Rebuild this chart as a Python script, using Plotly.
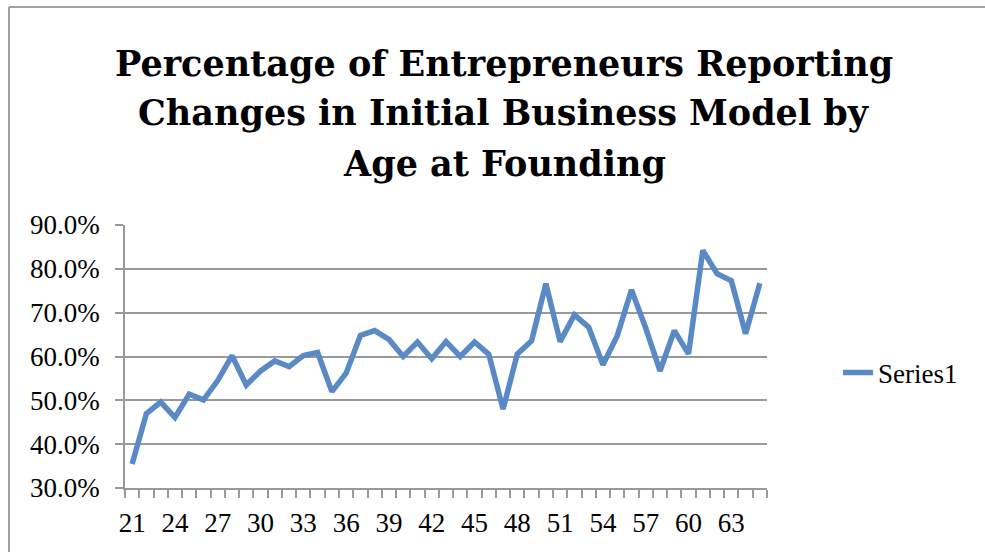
import plotly.graph_objects as go

ages = list(range(21, 66))
pct_changed = [35.5, 47.0, 49.6, 46.1, 51.4, 50.1, 54.5, 60.2, 53.5, 56.7,
               59.0, 57.7, 60.2, 60.9, 52.0, 56.2, 64.8, 65.9, 63.9, 60.0,
               63.3, 59.5, 63.4, 60.0, 63.3, 60.5, 48.0, 60.6, 63.6, 76.6,
               63.4, 69.5, 66.7, 58.1, 64.7, 75.2, 66.5, 56.7, 65.9, 60.6,
               84.2, 78.9, 77.3, 65.2, 76.7]
values = [v / 100 for v in pct_changed]
x_tick_labels = [21, 24, 27, 30, 33, 36, 39, 42, 45, 48, 51, 54, 57, 60, 63]
y_tick_values = [0.3, 0.4, 0.5, 0.6, 0.7, 0.8, 0.9]
series_name = "Series1"
title_lines = ["Percentage of Entrepreneurs Reporting",
               "Changes in Initial Business Model by",
               "Age at Founding"]

W, H = 985, 552
L, R, T, B = 125, 218, 225, 64
pw, ph = W - L - R, H - T - B
GRAY = "#999999"
TICKFONT = dict(family="Liberation Serif", size=27, color="#000000")

def px_x(p):
    return (p - L) / pw

def px_y(p):
    return (H - B - p) / ph

fig = go.Figure()
fig.add_trace(go.Scatter(x=ages, y=values, mode="lines", name=series_name,
                         line=dict(color="#5A8AC6", width=5.5)))

fig.update_layout(
    width=W, height=H,
    margin=dict(l=L, r=R, t=T, b=B),
    paper_bgcolor="white", plot_bgcolor="white",
    showlegend=True,
    legend=dict(x=px_x(838), y=px_y(373), xanchor="left", yanchor="middle",
                font=dict(family="Liberation Serif", size=27, color="#000000"),
                bgcolor="rgba(0,0,0,0)", borderwidth=0),
    xaxis=dict(range=[20.5, 65.5], tickmode="array", tickvals=x_tick_labels,
               ticktext=[str(v) for v in x_tick_labels], ticks="",
               showgrid=False, zeroline=False, showline=True, linecolor=GRAY,
               linewidth=1.5, tickfont=TICKFONT, ticklabelstandoff=10,
               minor=dict(tick0=20.5, dtick=1, ticks="outside", ticklen=8,
                          tickcolor=GRAY, tickwidth=1.5, showgrid=False)),
    yaxis=dict(range=[0.3, 0.9], tickmode="array", tickvals=y_tick_values,
               tickformat=".1%", ticks="outside", ticklen=8, tickcolor=GRAY,
               tickwidth=1.5, showgrid=True, gridcolor=GRAY, gridwidth=1.5,
               zeroline=False, showline=True, linecolor=GRAY, linewidth=1.5,
               tickfont=TICKFONT, ticklabelstandoff=10),
)

# chart frame: only the top and left edges fall inside the picture
fig.add_shape(type="line", xref="paper", yref="paper",
              x0=px_x(9), x1=px_x(W), y0=px_y(7), y1=px_y(7),
              line=dict(color="#A0A0A0", width=2), layer="below")
fig.add_shape(type="line", xref="paper", yref="paper",
              x0=px_x(9), x1=px_x(9), y0=px_y(7), y1=px_y(H),
              line=dict(color="#A0A0A0", width=2), layer="below")

for line, yc in zip(title_lines, [63, 113, 163]):
    fig.add_annotation(text="<b>%s</b>" % line, xref="paper", yref="paper",
                       x=px_x(504), y=px_y(yc), xanchor="center", yanchor="middle",
                       showarrow=False,
                       font=dict(family="DejaVu Serif", size=35, color="#000000"))

fig.write_html("out.html", config={"displayModeBar": False},
               post_script="document.body.style.margin='0';"
                           "document.body.style.overflow='hidden';")
